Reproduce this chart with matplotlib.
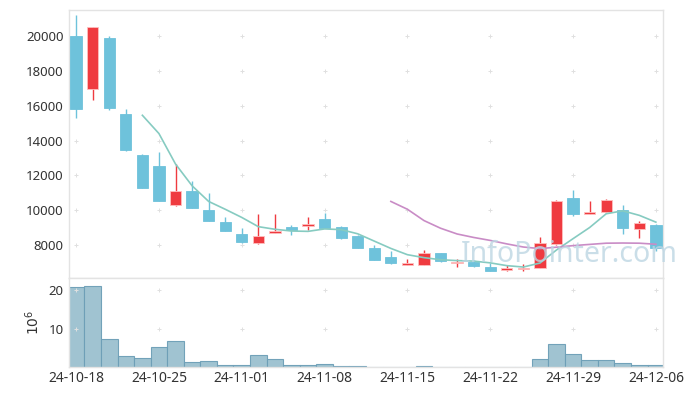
import matplotlib
matplotlib.use("Agg")
import matplotlib.pyplot as plt
import numpy as np

plt.rcParams['font.family'] = ['Noto Sans', 'DejaVu Sans']

dates = ['24-10-18', '24-10-21', '24-10-22', '24-10-23', '24-10-24', '24-10-25',
         '24-10-28', '24-10-29', '24-10-30', '24-10-31', '24-11-01',
         '24-11-04', '24-11-05', '24-11-06', '24-11-07', '24-11-08',
         '24-11-11', '24-11-12', '24-11-13', '24-11-14', '24-11-15',
         '24-11-18', '24-11-19', '24-11-20', '24-11-21', '24-11-22',
         '24-11-25', '24-11-26', '24-11-27', '24-11-28', '24-11-29',
         '24-12-02', '24-12-03', '24-12-04', '24-12-05', '24-12-06']

opens = [20000, 16950, 19900, 15500, 13150, 12550, 10300, 11100, 10000, 9300,
         8650, 8100, 8700, 9050, 9080, 9500, 9050, 8500, 7800, 7300,
         6830, 6820, 7530, 6950, 7030, 6740, 6560, 6600, 6670, 8050,
         10700, 9780, 9880, 10000, 8930, 9150]
highs = [21200, 20550, 20000, 15800, 13200, 13350, 12650, 11650, 11000, 9600,
         8950, 9800, 9750, 9150, 9600, 9850, 9100, 8550, 8000, 7650,
         7200, 7700, 7550, 7170, 7150, 6970, 6860, 6930, 8470, 10600,
         11150, 10500, 10650, 10300, 9350, 9200]
lows = [15300, 16350, 15750, 13400, 11250, 10500, 10250, 10100, 9400, 8780,
        8100, 8050, 8680, 8550, 8850, 9000, 8320, 7800, 7130, 6900,
        6820, 6820, 7000, 6740, 6750, 6500, 6500, 6510, 6650, 7980,
        9680, 9780, 9850, 8650, 8400, 7650]
closes = [15800, 20500, 15850, 13450, 11250, 10550, 11100, 10100, 9400, 8800,
          8150, 8500, 8800, 8850, 9220, 9000, 8380, 7800, 7150, 6950,
          6960, 7550, 7080, 7000, 6800, 6500, 6700, 6650, 8130, 10550,
          9780, 9900, 10600, 8950, 9250, 7850]

# moving averages (None where not drawn)
ma5 = [None, None, None, None, 15450, 14400, 12650, 11400, 10500, 10050,
       9580, 9050, 8900, 8800, 8780, 8920, 8880, 8640, 8220, 7800,
       7440, 7270, 7150, 7100, 7070, 6970, 6810, 6730, 6960, 7710,
       8360, 9000, 9790, 9960, 9700, 9310]
ma20 = [None] * 19 + [10500, 10050, 9400, 8960, 8630, 8430, 8260, 8060, 7880,
                      7790, 7870, 7960, 8030, 8100, 8110, 8100, 8040]

volume = [20.8, 21.0, 7.3, 2.85, 2.3, 5.2, 6.75, 1.4, 1.6, 0.5,
          0.5, 3.1, 2.1, 0.5, 0.5, 0.75, 0.25, 0.25, 0.1, 0.1,
          0.1, 0.3, 0.08, 0.08, 0.08, 0.08, 0.08, 0.08, 2.1, 6.05,
          3.4, 1.8, 1.8, 1.05, 0.5, 0.5]

price_ticks = [8000, 10000, 12000, 14000, 16000, 18000, 20000]
vol_ticks = [10, 20]
tick_step = 5

UP = '#ef3b40'
DOWN = '#6ec2db'
GRID = '#e0e0e0'
SPINE = '#e3e3e3'
TXT = '#333333'

x = np.arange(len(dates))
fig = plt.figure(figsize=(6.96, 3.96), dpi=100)
ax = fig.add_axes([69/696, 1-278/396, (663-69)/696, (278-10)/396])
axv = fig.add_axes([69/696, 1-367/396, (663-69)/696, (367-278)/396], sharex=ax)

o = np.array(opens); c = np.array(closes); h = np.array(highs); l = np.array(lows)
up = c >= o
colors = np.where(up, UP, DOWN)
ax.vlines(x, l, h, colors=colors, linewidth=1.0, zorder=3)
bottoms = np.minimum(o, c)
heights = np.maximum(np.abs(c - o), 60)
ax.bar(x, heights, bottom=bottoms, width=0.68, color=colors,
       edgecolor=[(1, 0.75, 0.75) if u else DOWN for u in up], linewidth=0.6, zorder=4)

m5x = [i for i, v in enumerate(ma5) if v is not None]
ax.plot(m5x, [ma5[i] for i in m5x], color='#86cbc1', linewidth=1.2, zorder=5)
m20x = [i for i, v in enumerate(ma20) if v is not None]
ax.plot(m20x, [ma20[i] for i in m20x], color='#c98cc6', linewidth=1.2, zorder=5)

ax.set_ylim(6100, 21500)
ax.set_xlim(-0.43, len(dates) - 1 + 0.43)
ax.set_yticks(price_ticks)
ax.set_yticklabels([str(t) for t in price_ticks])

axv.bar(x, volume, width=1.0, color='#9bc0cf', edgecolor='#6d9fb7', linewidth=0.8, alpha=0.95)
axv.set_ylim(0, 23.2)
axv.set_yticks(vol_ticks)
axv.set_yticklabels([str(t) for t in vol_ticks])
axv.set_ylabel(r'$10^6$', fontsize=10, color=TXT, labelpad=4)

xt = list(range(0, len(dates), tick_step))
axv.set_xticks(xt)
axv.set_xticklabels([dates[i] for i in xt])

for a, yt in ((ax, price_ticks), (axv, vol_ticks)):
    gx, gy = np.meshgrid(xt, yt)
    a.scatter(gx.ravel(), gy.ravel(), marker='+', s=11, color=GRID, linewidths=0.7, zorder=1)
    for s in a.spines.values():
        s.set_color(SPINE)
        s.set_linewidth(1.0)
    a.tick_params(length=0, labelsize=9.5, colors=TXT, pad=4)
    a.set_facecolor('white')

plt.setp(ax.get_xticklabels(), visible=False)
axv.tick_params(axis='x', pad=3, labelsize=10)

fig.text(569/696, 1-255/396, 'InfoPointer.com', fontsize=20.5, color='#bdd6e3', alpha=0.8,
         ha='center', va='center', zorder=10)

fig.savefig('out.png', dpi=100)
